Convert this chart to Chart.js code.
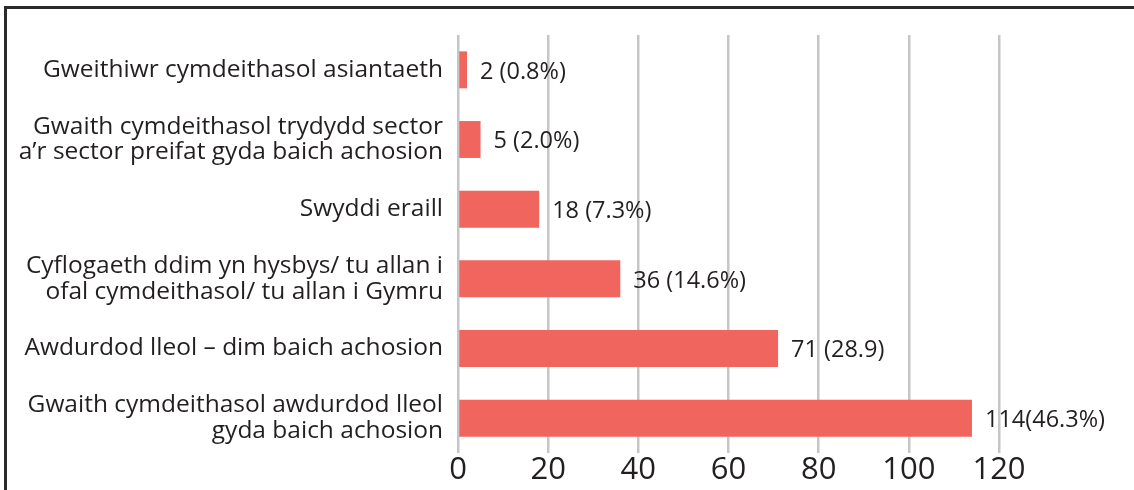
<!DOCTYPE html>
<html><head><meta charset="utf-8">
<script src="https://cdn.jsdelivr.net/npm/chart.js@4/dist/chart.umd.min.js"></script>
<style>
html,body{margin:0;padding:0;background:#fff;}
#wrap{position:absolute;left:0;top:0;width:1134px;height:490px;}
#frame{position:absolute;left:4px;top:6px;width:1130px;height:484px;border-top:3px solid #2b2b2b;border-left:3px solid #2b2b2b;box-sizing:border-box;}
canvas{position:absolute;left:0;top:0;}
</style></head>
<body>
<div id="wrap"><div id="frame"></div><canvas id="c" width="1134" height="490"></canvas></div>
<script>
const categories = [
  ["Gweithiwr cymdeithasol asiantaeth"],
  ["Gwaith cymdeithasol trydydd sector","a\u2019r sector preifat gyda baich achosion"],
  ["Swyddi eraill"],
  ["Cyflogaeth ddim yn hysbys/ tu allan i","ofal cymdeithasol/ tu allan i Gymru"],
  ["Awdurdod lleol \u2013 dim baich achosion"],
  ["Gwaith cymdeithasol awdurdod lleol","gyda baich achosion"]
];
const values = [2, 5, 18, 36, 71, 114];
const valueLabels = ["2 (0.8%)", "5 (2.0%)", "18 (7.3%)", "36 (14.6%)", "71 (28.9)", "114(46.3%)"];
const xTicks = [0, 20, 40, 60, 80, 100, 120];

const FONT = "'Open Sans', Lato, sans-serif";
const TEXT = "#231f20";

const valueLabelPlugin = {
  id: 'valueLabels',
  afterDatasetsDraw(chart) {
    const ctx = chart.ctx;
    const meta = chart.getDatasetMeta(0);
    ctx.save();
    ctx.font = "23.5px " + FONT;
    ctx.fillStyle = TEXT;
    ctx.textAlign = 'left';
    ctx.textBaseline = 'middle';
    meta.data.forEach((bar, i) => {
      ctx.fillText(valueLabels[i], bar.x + 13, bar.y + 2);
    });
    ctx.restore();
  }
};

new Chart(document.getElementById('c'), {
  type: 'bar',
  data: {
    labels: categories,
    datasets: [{
      data: values,
      backgroundColor: '#f0665e',
      borderWidth: 0,
      barPercentage: 0.53,
      categoryPercentage: 1.0
    }]
  },
  options: {
    indexAxis: 'y',
    responsive: false,
    animation: false,
    devicePixelRatio: 1,
    layout: { padding: { top: 35, right: 135, left: 0, bottom: 0 } },
    plugins: { legend: { display: false }, tooltip: { enabled: false } },
    scales: {
      x: {
        min: 0, max: 120,
        afterBuildTicks(scale) { scale.ticks = xTicks.map(v => ({ value: v })); },
        afterFit(scale) { scale.height = 37; scale.paddingLeft = 0; scale.paddingRight = 0; },
        grid: { color: '#c6c6c8', lineWidth: 2.5, drawTicks: false },
        border: { display: false },
        ticks: { font: { family: FONT, size: 31, lineHeight: 1.0 }, color: TEXT, padding: 2 }
      },
      y: {
        afterFit(scale) { scale.width = 458; scale.paddingTop = 0; scale.paddingBottom = 0; },
        grid: { display: false, drawTicks: false },
        border: { display: false },
        ticks: { font: { family: FONT, size: 24.5, lineHeight: 1.04 }, color: TEXT, padding: 15 }
      }
    }
  },
  plugins: [valueLabelPlugin]
});
</script>
</body></html>
